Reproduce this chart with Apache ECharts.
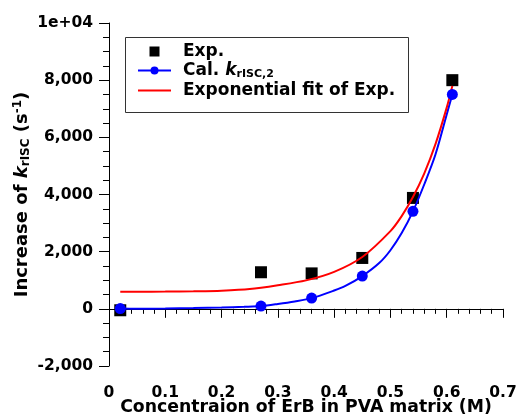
<!DOCTYPE html>
<html>
<head>
<meta charset="utf-8">
<script src="https://cdn.jsdelivr.net/npm/echarts@6/dist/echarts.min.js"></script>
<style>
  html, body { margin: 0; padding: 0; background: #fff; }
  #myChart { width: 519px; height: 420px; }
</style>
</head>
<body>
<div id="myChart"></div>
<script>
// measured points
const expX = [0.02, 0.27, 0.36, 0.45, 0.54, 0.61];
const expY = [-50, 1280, 1240, 1780, 3880, 8000];
const calX = [0.02, 0.27, 0.36, 0.45, 0.54, 0.61];
const calY = [10, 95, 375, 1145, 3410, 7500];
// blue calculated curve (between the dots)
const calCurveX = [0.05, 0.10, 0.15, 0.20, 0.24, 0.30, 0.33, 0.40, 0.42, 0.48, 0.50, 0.52, 0.56, 0.58, 0.60];
const calCurveY = [5, 10, 25, 45, 70, 170, 260, 640, 800, 1600, 2050, 2650, 4350, 5400, 6800];
// red exponential fit curve
const fitX = [0.02, 0.05, 0.10, 0.15, 0.20, 0.25, 0.30, 0.35, 0.40, 0.45, 0.50, 0.52, 0.54, 0.56, 0.58, 0.60, 0.61];
const fitY = [600, 600, 605, 615, 635, 690, 825, 995, 1295, 1815, 2720, 3245, 3910, 4730, 5760, 7040, 7800];
const xTicks = [0, 0.1, 0.2, 0.3, 0.4, 0.5, 0.6, 0.7];
const yTicks = [-2000, 0, 2000, 4000, 6000, 8000, 10000];

const font = 'DejaVu Sans, sans-serif';

// blue line: curve points without symbol, measured points with a dot
let calData = calX.map((x, i) => ({ value: [x, calY[i]] }))
    .concat(calCurveX.map((x, i) => ({ value: [x, calCurveY[i]], symbol: 'none' })));
calData.sort((a, b) => a.value[0] - b.value[0]);

function richText(size, small) {
    return {
        b: { fontFamily: font, fontWeight: 'bold', fontSize: size, color: '#000', lineHeight: size + 2 },
        i: { fontFamily: font, fontWeight: 'bold', fontStyle: 'italic', fontSize: size, color: '#000', lineHeight: size + 2 },
        s: { fontFamily: font, fontWeight: 'bold', fontSize: small, color: '#000', lineHeight: small, verticalAlign: 'bottom' },
        p: { fontFamily: font, fontWeight: 'bold', fontSize: small, color: '#000', lineHeight: small, verticalAlign: 'top' }
    };
}

let myEchart = echarts.init(document.getElementById('myChart'));
myEchart.setOption({
    animation: false,
    grid: { left: 109, top: 23, right: 16, bottom: 54, outerBoundsMode: 'none' },
    graphic: [{
        type: 'rect',
        left: 125,
        top: 37,
        shape: { width: 283, height: 75 },
        style: { fill: '#fff', stroke: '#333', lineWidth: 1 },
        z: 0
    }],
    legend: {
        orient: 'vertical',
        left: 137,
        top: 43,
        padding: 0,
        itemGap: 2,
        itemWidth: 33,
        itemHeight: 10,
        data: [
            { name: 'Exp.', icon: 'path://M0,0L10,0L10,10L0,10Z' },
            { name: 'Cal.' },
            { name: 'Exponential fit of Exp.', itemStyle: { opacity: 0 } }
        ],
        formatter: function (name) {
            if (name === 'Cal.') return '{b|Cal. }{i|k}{s|rISC,2}';
            return '{b|' + name + '}';
        },
        textStyle: { rich: richText(17, 11), padding: [0, 0, 0, 7] }
    },
    xAxis: {
        type: 'value',
        min: 0,
        max: 0.7,
        interval: 0.1,
        offset: 2,
        name: 'Concentraion of ErB in PVA matrix (M)',
        nameLocation: 'middle',
        nameGap: 31,
        nameMoveOverlap: false,
        nameTextStyle: { fontFamily: font, fontWeight: 'bold', fontSize: 17.3, color: '#000' },
        axisLine: { lineStyle: { color: '#000', width: 1 } },
        axisTick: { length: 9, lineStyle: { color: '#000' } },
        minorTick: { show: true, splitNumber: 5, length: 5, lineStyle: { color: '#000' } },
        splitLine: { show: false },
        axisLabel: {
            margin: 17,
            fontFamily: font, fontWeight: 'bold', fontSize: 15.5, color: '#000',
            formatter: v => (v === 0 ? '0' : v.toFixed(1))
        }
    },
    yAxis: {
        type: 'value',
        min: -2000,
        max: 10000,
        interval: 2000,
        name: '{b|Increase of }{i|k}{s|rISC}{b| (s}{p|-1}{b|)}',
        nameLocation: 'middle',
        nameRotate: 90,
        nameGap: 77,
        nameMoveOverlap: false,
        nameTextStyle: { rich: richText(18, 12) },
        axisLine: { show: true, lineStyle: { color: '#000', width: 1 } },
        axisTick: { show: true, length: 10, lineStyle: { color: '#000' } },
        minorTick: { show: true, splitNumber: 4, length: 6, lineStyle: { color: '#000' } },
        splitLine: { show: false },
        axisLabel: {
            margin: 16,
            fontFamily: font, fontWeight: 'bold', fontSize: 15.5, color: '#000',
            formatter: v => (v === 10000 ? '1e+04' : v.toLocaleString('en-US'))
        }
    },
    series: [
        {
            name: 'Exp.',
            type: 'scatter',
            symbol: 'rect',
            symbolSize: 12,
            symbolKeepAspect: true,
            itemStyle: { color: '#000', opacity: 1 },
            data: expX.map((x, i) => [x, expY[i]])
        },
        {
            name: 'Cal.',
            type: 'line',
            smooth: 0.3,
            symbol: 'circle',
            symbolSize: 11,
            showAllSymbol: true,
            itemStyle: { color: '#0000ff' },
            lineStyle: { color: '#0000ff', width: 2 },
            data: calData
        },
        {
            name: 'Exponential fit of Exp.',
            type: 'line',
            smooth: 0.3,
            symbol: 'none',
            itemStyle: { color: '#ff0000' },
            lineStyle: { color: '#ff0000', width: 2 },
            data: fitX.map((x, i) => [x, fitY[i]])
        }
    ]
});
window.addEventListener('resize', function () {
    myEchart.resize();
});
</script>
</body>
</html>
